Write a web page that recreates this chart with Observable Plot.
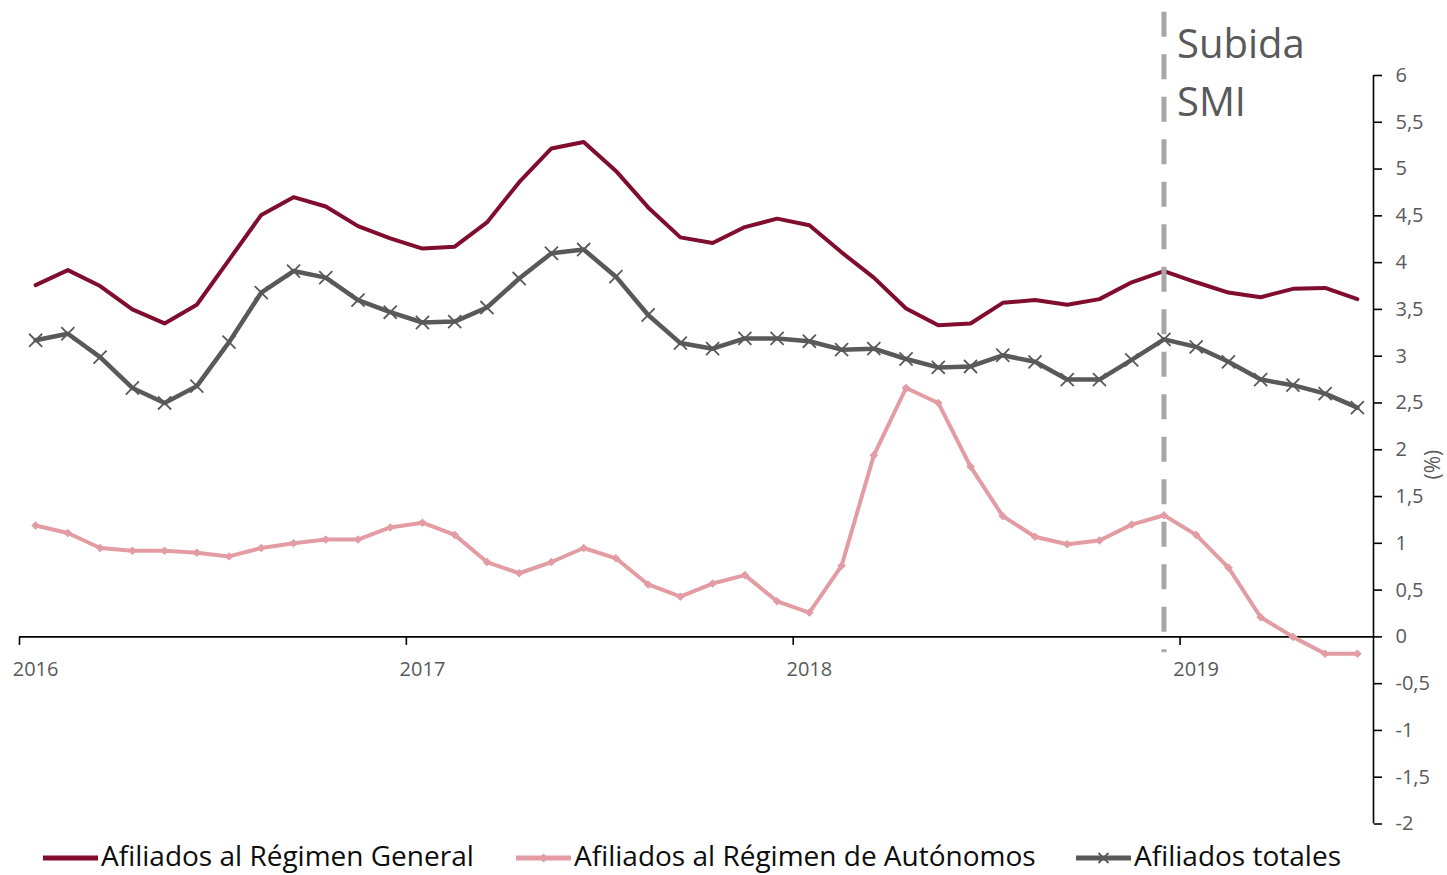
<!DOCTYPE html>
<html>
<head>
<meta charset="utf-8">
<script src="https://cdn.jsdelivr.net/npm/d3@7"></script>
<script src="https://cdn.jsdelivr.net/npm/@observablehq/plot@0.6"></script>
<style>
  html, body { margin: 0; padding: 0; background: #ffffff; }
  body { font-family: "Open Sans", sans-serif; width: 1447px; height: 875px; overflow: hidden; }
  #chart svg, #legend svg { display: block; }
</style>
</head>
<body>
<div id="chart"></div>
<div id="legend"></div>
<script>
// ---------- data ----------
const months = [
  "2016-01","2016-02","2016-03","2016-04","2016-05","2016-06","2016-07","2016-08","2016-09","2016-10","2016-11","2016-12",
  "2017-01","2017-02","2017-03","2017-04","2017-05","2017-06","2017-07","2017-08","2017-09","2017-10","2017-11","2017-12",
  "2018-01","2018-02","2018-03","2018-04","2018-05","2018-06","2018-07","2018-08","2018-09","2018-10","2018-11","2018-12",
  "2019-01","2019-02","2019-03","2019-04","2019-05","2019-06"
];
const general = [3.76,3.92,3.75,3.50,3.35,3.55,4.03,4.51,4.70,4.60,4.39,4.26,4.15,4.17,4.43,4.86,5.22,5.29,4.98,4.59,4.27,4.21,4.38,4.47,4.40,4.11,3.84,3.51,3.33,3.35,3.57,3.60,3.55,3.61,3.79,3.91,3.79,3.68,3.63,3.72,3.73,3.61];
const autonomos = [1.19,1.11,0.95,0.92,0.92,0.90,0.86,0.95,1.00,1.04,1.04,1.17,1.22,1.09,0.80,0.68,0.80,0.95,0.84,0.56,0.43,0.57,0.66,0.38,0.26,0.76,1.94,2.66,2.50,1.82,1.29,1.07,0.99,1.03,1.20,1.30,1.09,0.74,0.21,0.00,-0.18,-0.18];
const totales = [3.17,3.24,2.99,2.66,2.50,2.68,3.15,3.68,3.91,3.84,3.60,3.47,3.36,3.37,3.52,3.83,4.10,4.14,3.85,3.44,3.14,3.08,3.19,3.19,3.16,3.07,3.08,2.97,2.88,2.89,3.01,2.94,2.75,2.75,2.96,3.18,3.10,2.94,2.75,2.69,2.60,2.45];
const seriesNames = ["Afiliados al Régimen General", "Afiliados al Régimen de Autónomos", "Afiliados totales"];
const yearLabels = ["2016", "2017", "2018", "2019"];
const yTicks = [-2,-1.5,-1,-0.5,0,0.5,1,1.5,2,2.5,3,3.5,4,4.5,5,5.5,6];
const yDomain = [-2, 6];
const yLabel = "(%)";
const smiMonth = "2018-12";
const smiExtent = [6.677, -0.171];
const smiLabel = "Subida\nSMI";

// ---------- styles ----------
const C_GENERAL = "#800C2E";
const C_AUTON = "#E39CA3";
const C_TOTAL = "#595959";
const C_TEXT = "#595959";
const C_DASH = "#A6A6A6";
const FONT = "'Open Sans', sans-serif";

// ---------- derived ----------
const idx = m => months.indexOf(m);
const toRows = vals => vals.map((v, i) => ({i, v}));
const rGeneral = toRows(general), rAuton = toRows(autonomos), rTotal = toRows(totales);
const yearTicks = yearLabels.map(y => ({label: y, i: idx(y + "-01")}));
const fmt = d => String(d).replace(".", ",");
const tickDown = {draw(ctx) { ctx.moveTo(0, 0); ctx.lineTo(0, 8); }};

const W = 1447, H = 830;
const chart = Plot.plot({
  width: W,
  height: H,
  marginLeft: 19,
  marginRight: 74,
  marginTop: 75,
  marginBottom: 6.5,
  style: {fontFamily: FONT, fontSize: "20px", background: "#ffffff", overflow: "visible"},
  x: {domain: [-0.5, months.length - 0.5], axis: null},
  y: {domain: yDomain, axis: null},
  marks: [
    // x axis line at 0
    Plot.ruleY([0], {stroke: "#000000", strokeWidth: 1.6}),
    // x ticks between years
    Plot.dot(yearTicks, {x: d => d.i - 0.5, y: () => 0, symbol: tickDown, r: 4, stroke: "#000000", strokeWidth: 1.6, fill: "none"}),
    Plot.text(yearTicks, {x: "i", y: () => 0, text: "label", dy: 33, fill: C_TEXT, fontSize: 20}),
    // y axis on right
    Plot.ruleX([months.length - 0.5], {stroke: "#000000", strokeWidth: 1.6}),
    Plot.axisY(yTicks, {anchor: "right", tickSize: 8, tickPadding: 14, tickFormat: fmt, stroke: "#000000", strokeWidth: 1.6, fill: C_TEXT, fontSize: 20, label: null}),
    Plot.text([yLabel], {frameAnchor: "right", dx: 60, rotate: -90, fill: C_TEXT, fontSize: 21}),
    // series
    Plot.line(rGeneral, {x: "i", y: "v", stroke: C_GENERAL, strokeWidth: 4}),
    Plot.line(rAuton, {x: "i", y: "v", stroke: C_AUTON, strokeWidth: 4}),
    Plot.dot(rAuton, {x: "i", y: "v", symbol: "diamond2", r: 3.4, fill: C_AUTON, stroke: C_AUTON, strokeWidth: 1}),
    Plot.line(rTotal, {x: "i", y: "v", stroke: C_TOTAL, strokeWidth: 4.5}),
    Plot.dot(rTotal, {x: "i", y: "v", symbol: "times", r: 6, stroke: C_TOTAL, strokeWidth: 1.8}),
    // SMI annotation
    Plot.ruleX([smiMonth], {x: d => idx(d), y1: smiExtent[0], y2: smiExtent[1], stroke: C_DASH, strokeWidth: 5, strokeDasharray: "25,17.5"}),
    Plot.text([smiLabel], {x: () => idx(smiMonth), y: () => smiExtent[0], text: d => d, textAnchor: "start", lineAnchor: "top", lineHeight: 1.45, dx: 13, dy: 5, fill: C_TEXT, fontSize: 40})
  ]
});
document.getElementById("chart").appendChild(chart);

// ---------- legend ----------
const legendItems = [
  {name: seriesNames[0], color: C_GENERAL, marker: null, x0: 43},
  {name: seriesNames[1], color: C_AUTON, marker: "diamond", x0: 516},
  {name: seriesNames[2], color: C_TOTAL, marker: "times", x0: 1076}
];
const lg = d3.create("svg").attr("width", W).attr("height", 45)
  .style("font-family", FONT);
const items = lg.selectAll("g").data(legendItems).join("g")
  .attr("transform", d => `translate(${d.x0},0)`);
items.append("line").attr("x1", 0).attr("x2", 55).attr("y1", 28).attr("y2", 28)
  .attr("stroke", d => d.color).attr("stroke-width", 5);
items.filter(d => d.marker === "diamond").append("path")
  .attr("d", "M27.5,23.5L32,28L27.5,32.5L23,28Z").attr("fill", d => d.color);
items.filter(d => d.marker === "times").append("path")
  .attr("d", "M22.5,23L32.5,33M22.5,33L32.5,23").attr("stroke", d => d.color).attr("stroke-width", 1.8).attr("fill", "none");
items.append("text").attr("x", 58).attr("y", 36)
  .attr("font-size", 28).attr("fill", "#0D0D0D").text(d => d.name);
document.getElementById("legend").appendChild(lg.node());
</script>
</body>
</html>
